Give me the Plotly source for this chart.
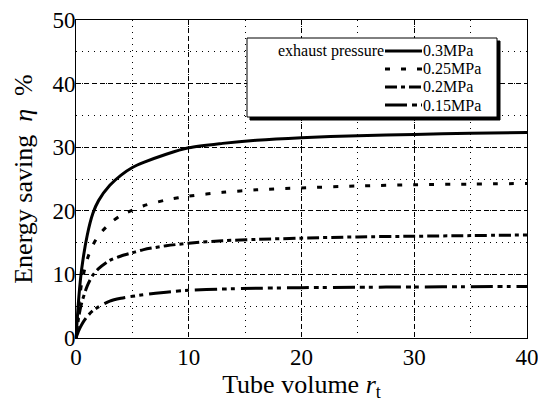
import plotly.graph_objects as go

# ---- data ----
x_vals = [0, 0.25, 0.5, 1, 1.5, 2, 3, 4, 5, 6, 8, 10, 13, 16, 20, 25, 30, 35, 40]
p030 = [0, 6.4, 10.8, 16.2, 19.6, 21.6, 24.0, 25.6, 26.8, 27.6, 28.9, 29.9, 30.6, 31.1, 31.5, 31.8, 32.0, 32.2, 32.3]
p025 = [0, 5.2, 8.6, 12.4, 14.6, 16.1, 18.0, 19.3, 20.1, 20.8, 21.7, 22.3, 22.9, 23.3, 23.6, 23.9, 24.1, 24.2, 24.3]
p020 = [0, 3.4, 5.5, 8.2, 9.9, 10.9, 12.2, 12.9, 13.4, 13.9, 14.5, 14.9, 15.3, 15.5, 15.7, 15.9, 16.0, 16.1, 16.2]
p015 = [0, 1.2, 2.1, 3.4, 4.3, 4.9, 5.8, 6.25, 6.55, 6.8, 7.2, 7.5, 7.7, 7.82, 7.92, 7.98, 8.03, 8.07, 8.1]

series_names = ["0.3MPa", "0.25MPa", "0.2MPa", "0.15MPa"]
series_vals = [p030, p025, p020, p015]
series_dash = ["solid", "5px,11px", "12px,4px,4px,4px", "22px,5px,5px,4px,4px,6px"]
series_width = [3, 3, 3, 3]

x_ticks = [0, 10, 20, 30, 40]
y_ticks = [0, 10, 20, 30, 40, 50]
legend_title = "exhaust pressure"

FONT = "Times New Roman, Liberation Serif, DejaVu Serif, serif"

fig = go.Figure()
for name, vals, dash, w in zip(series_names, series_vals, series_dash, series_width):
    fig.add_trace(go.Scatter(
        x=x_vals, y=vals, mode="lines", name=name,
        line=dict(color="black", width=w, dash=dash, shape="spline", smoothing=0.8),
        showlegend=False,
    ))

axis_common = dict(
    showline=True, linecolor="black", linewidth=1, mirror=True,
    showgrid=True, gridcolor="black", gridwidth=1, griddash="5px,3px",
    ticks="", zeroline=False, ticklabeloverflow="allow",
    tickfont=dict(family=FONT, size=23, color="black"),
)

fig.update_xaxes(
    range=[0, 40], tickvals=x_ticks,
    minor=dict(dtick=5, showgrid=True, gridcolor="black", gridwidth=1, griddash="1px,5px"),
    title=dict(text="Tube volume <i>r</i><sub>t</sub>", font=dict(family=FONT, size=26, color="black"), standoff=0),
    automargin=False, ticklabelstandoff=-2,
    **axis_common,
)
fig.update_yaxes(
    range=[0, 50], tickvals=y_ticks,
    minor=dict(dtick=5, showgrid=True, gridcolor="black", gridwidth=1, griddash="1px,5px"),
    title=dict(text="Energy saving\u00a0\u00a0<i>η</i>\u00a0\u00a0%", font=dict(family=FONT, size=26, color="black"), standoff=12),
    automargin=False, ticklabelstandoff=-5,
    **axis_common,
)

# ---- hand-built legend (box with shadow, samples and labels) ----
def px_x(p):
    return (p - 76) / 451.0

def px_y(p):
    return (338 - p) / 318.0

shapes = []
shapes.append(dict(type="rect", xref="paper", yref="paper",
                   x0=px_x(250), x1=px_x(500), y0=px_y(120), y1=px_y(41),
                   fillcolor="black", line=dict(color="black", width=1), layer="above"))
shapes.append(dict(type="rect", xref="paper", yref="paper",
                   x0=px_x(247), x1=px_x(497), y0=px_y(117), y1=px_y(38),
                   fillcolor="white", line=dict(color="black", width=1), layer="above"))
row_y = [51, 69, 87, 105]
annotations = []
for ry, name, dash, w in zip(row_y, series_names, series_dash, series_width):
    shapes.append(dict(type="line", xref="paper", yref="paper",
                       x0=px_x(385), x1=px_x(422), y0=px_y(ry), y1=px_y(ry),
                       line=dict(color="black", width=w, dash=dash), layer="above"))
    annotations.append(dict(text=name, xref="paper", yref="paper", x=px_x(421), y=px_y(ry),
                            xanchor="left", yanchor="middle", showarrow=False,
                            font=dict(family=FONT, size=16, color="black")))
annotations.append(dict(text=legend_title, xref="paper", yref="paper", x=px_x(386), y=px_y(row_y[0]),
                        xanchor="right", yanchor="middle", showarrow=False,
                        font=dict(family=FONT, size=16, color="black")))

fig.update_layout(
    width=538, height=403,
    margin=dict(l=76, r=11, t=20, b=65),
    paper_bgcolor="white", plot_bgcolor="white",
    font=dict(family=FONT, color="black"),
    shapes=shapes, annotations=annotations,
    showlegend=False,
)

fig.write_html("out.html")
